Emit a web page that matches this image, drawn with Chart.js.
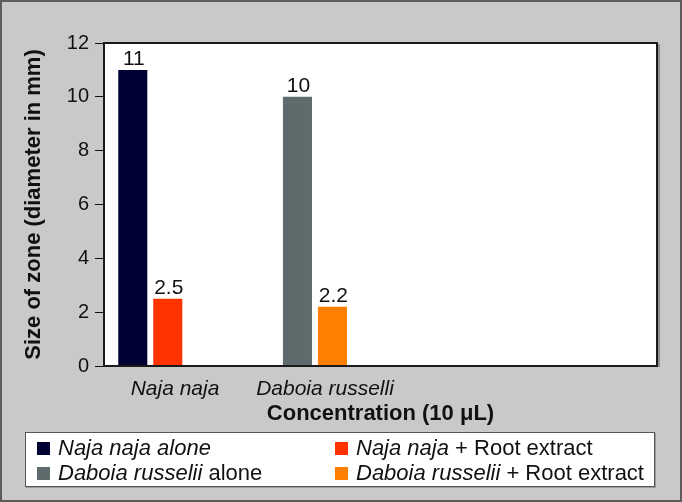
<!DOCTYPE html>
<html><head><meta charset="utf-8">
<script src="https://cdn.jsdelivr.net/npm/chart.js@4/dist/chart.umd.min.js"></script>
<style>
html,body{margin:0;padding:0;background:#c8c8c8;}
#wrap{position:relative;width:682px;height:502px;box-sizing:border-box;border:2px solid #5c5c5c;background:#c9c9c9;overflow:hidden;}
#c{position:absolute;left:-2px;top:-2px;}
#legend{position:absolute;left:23px;top:430px;width:630px;height:55px;box-sizing:border-box;background:#fff;border:1px solid #555;box-shadow:1px 1px 0 #9a9a9a;font-family:"Liberation Sans",Arial,sans-serif;font-size:22px;color:#111;}
.item{position:absolute;height:24px;line-height:24px;white-space:nowrap;display:flex;align-items:center;}
.sw{width:13px;height:13px;margin-right:8px;flex:none;}
</style></head>
<body>
<div id="wrap">
<canvas id="c" width="682" height="502"></canvas>
<div id="legend"></div>
</div>
<script>
const categories = ['Naja naja', 'Daboia russelli'];
const seriesItalic = ['Naja naja alone', 'Naja naja', 'Daboia russelii', 'Daboia russelii'];
const seriesPlain = ['', ' + Root extract', ' alone', ' + Root extract'];
const najaAlone = [11, null];
const najaRoot = [2.5, null];
const daboiaAlone = [null, 10];
const daboiaRoot = [null, 2.2];
const yTicks = [0, 2, 4, 6, 8, 10, 12];
const colors = ['#000033', '#ff3300', '#5e6b6d', '#ff8000'];
const yTitle = 'Size of zone (diameter in mm)';
const xTitle = 'Concentration (10 μL)';

const FAMILY = '"Liberation Sans", Arial, sans-serif';
Chart.defaults.font.family = FAMILY;
Chart.defaults.color = '#111';

const seriesData = [najaAlone, najaRoot, daboiaAlone, daboiaRoot];

const plotBox = {
  id: 'plotBox',
  beforeDatasetsDraw(chart) {
    const {ctx, chartArea: a} = chart;
    ctx.save();
    ctx.fillStyle = '#ffffff';
    ctx.fillRect(a.left, a.top, a.right - a.left, a.bottom - a.top);
    ctx.restore();
  },
  afterDatasetsDraw(chart) {
    const {ctx, chartArea: a} = chart;
    ctx.save();
    ctx.fillStyle = '#8e8e8e';
    ctx.fillRect(a.right + 1, a.top + 1, 2, a.bottom - a.top);
    ctx.lineWidth = 2;
    ctx.strokeStyle = '#1a1a1a';
    ctx.strokeRect(a.left, a.top, a.right - a.left, a.bottom - a.top);
    // value labels
    ctx.fillStyle = '#111';
    ctx.font = '21px ' + FAMILY;
    ctx.textAlign = 'center';
    ctx.textBaseline = 'alphabetic';
    chart.data.datasets.forEach((ds, di) => {
      const meta = chart.getDatasetMeta(di);
      meta.data.forEach((el, i) => {
        const v = ds.data[i];
        if (v === null || v === undefined) return;
        ctx.fillText(String(v), el.x + 1, el.y - 5);
      });
    });
    ctx.restore();
  }
};

const htmlLegend = {
  id: 'htmlLegend',
  afterUpdate(chart) {
    const box = document.getElementById('legend');
    box.innerHTML = '';
    chart.data.datasets.forEach((ds, i) => {
      const item = document.createElement('div');
      item.className = 'item';
      const col = i % 2, row = Math.floor(i / 2);
      item.style.left = (col === 0 ? 11 : 309) + 'px';
      item.style.top = (row === 0 ? 3 : 28) + 'px';
      const sw = document.createElement('span');
      sw.className = 'sw';
      sw.style.background = ds.backgroundColor;
      item.appendChild(sw);
      const t = document.createElement('span');
      const it = document.createElement('i');
      it.textContent = seriesItalic[i];
      t.appendChild(it);
      if (seriesPlain[i]) t.appendChild(document.createTextNode(seriesPlain[i]));
      item.appendChild(t);
      box.appendChild(item);
    });
  }
};

new Chart(document.getElementById('c'), {
  type: 'bar',
  data: {
    labels: categories.map((_, i) => i),
    datasets: seriesData.map((d, i) => ({
      label: seriesItalic[i] + seriesPlain[i],
      data: d,
      backgroundColor: colors[i],
      borderWidth: 0,
      categoryPercentage: 0.425,
      barPercentage: 0.83,
      skipNull: true,
      xAxisID: 'x'
    }))
  },
  options: {
    responsive: false,
    animation: false,
    layout: {padding: {top: 43, right: 25, left: 0, bottom: 0}},
    plugins: {legend: {display: false}, tooltip: {enabled: false}},
    scales: {
      x: {
        type: 'linear', display: false, offset: false, min: -0.281, max: 3.077,
        afterBuildTicks(s) { s.ticks = categories.map((_, i) => ({value: i})); }
      },
      xl: {
        type: 'linear', position: 'bottom', offset: false, min: -0.4733, max: 3.2133,
        afterBuildTicks(s) { s.ticks = categories.map((_, i) => ({value: i})); },
        ticks: {callback: (v) => categories[v], font: {size: 21, style: 'italic'}, color: '#111', padding: 11, maxRotation: 0, autoSkip: false},
        grid: {display: false, drawTicks: false, offset: false},
        border: {display: false},
        title: {display: true, text: xTitle, font: {size: 22, weight: 'bold'}, color: '#111', padding: {top: 0, bottom: 75}},
        afterFit(s) { s.height = 136; }
      },
      y: {
        min: yTicks[0], max: yTicks[yTicks.length - 1],
        ticks: {stepSize: yTicks[1] - yTicks[0], padding: 6, color: '#111', font: {size: 20}},
        grid: {drawOnChartArea: false, tickLength: 9, color: '#111', tickColor: '#111', tickWidth: 1},
        border: {display: false},
        title: {display: true, text: yTitle, font: {size: 22, weight: 'bold'}, color: '#111', padding: {top: 21, bottom: 0}},
        afterFit(s) { s.width = 104; }
      }
    }
  },
  plugins: [plotBox, htmlLegend]
});
</script>
</body></html>
